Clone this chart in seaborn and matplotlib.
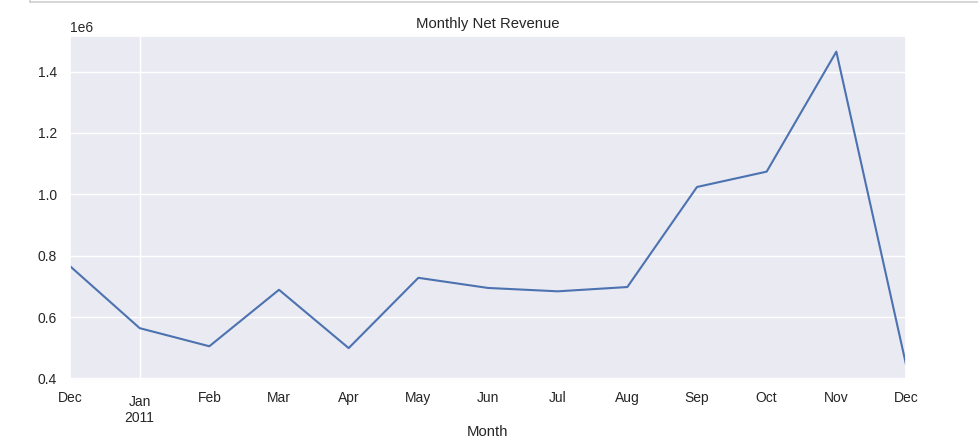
import numpy as np
import pandas as pd
import matplotlib.pyplot as plt
import seaborn as sns
from matplotlib.lines import Line2D

months = ['Dec', 'Jan', 'Feb', 'Mar', 'Apr', 'May', 'Jun', 'Jul', 'Aug', 'Sep', 'Oct', 'Nov', 'Dec']
net_revenue = [766000, 564000, 505000, 689000, 499000, 728000, 695000, 684000, 698000,
               1024000, 1074000, 1465000, 446000]

df = pd.DataFrame({'pos': np.arange(len(months)), 'revenue': net_revenue})

sns.set_theme(style='darkgrid')
plt.rcParams['font.family'] = ['Liberation Sans', 'DejaVu Sans']

fig = plt.figure(figsize=(9.79, 4.46), dpi=100)
ax = fig.add_axes([70 / 979, 1 - 380 / 446, 836 / 979, 344 / 446])
sns.lineplot(data=df, x='pos', y='revenue', ax=ax, color='#4c72b0', linewidth=1.5)

# pandas-style period axis: year start is the major tick, other months minor
ax.set_xlim(0, len(months) - 1)
ax.set_xticks([1], labels=['Jan\n2011'])
minor = [i for i in range(len(months)) if i != 1]
ax.set_xticks(minor, labels=[months[i] for i in minor], minor=True)
ax.tick_params(axis='x', which='major', labelsize=10, pad=4.5)
ax.tick_params(axis='x', which='minor', labelsize=10, pad=4)
ax.tick_params(axis='y', labelsize=10)
ax.grid(False, which='minor')

ax.set_yticks([400000, 600000, 800000, 1000000, 1200000, 1400000])
ax.ticklabel_format(axis='y', style='sci', scilimits=(0, 0))
ax.yaxis.get_offset_text().set_fontsize(10)

ax.set_title('Monthly Net Revenue', fontsize=10.7, pad=6)
ax.set_xlabel('Month', fontsize=10.7, labelpad=0.5)
ax.set_ylabel('')

# thin frame edge of the notebook output cell at the top
fig.add_artist(Line2D([30 / 979, 1], [1 - 2 / 446, 1 - 2 / 446], color='#d0d0d0', lw=1.2))
fig.add_artist(Line2D([30 / 979, 30 / 979], [1 - 2 / 446, 1], color='#d0d0d0', lw=1.2))

fig.savefig('out.png', dpi=100)
